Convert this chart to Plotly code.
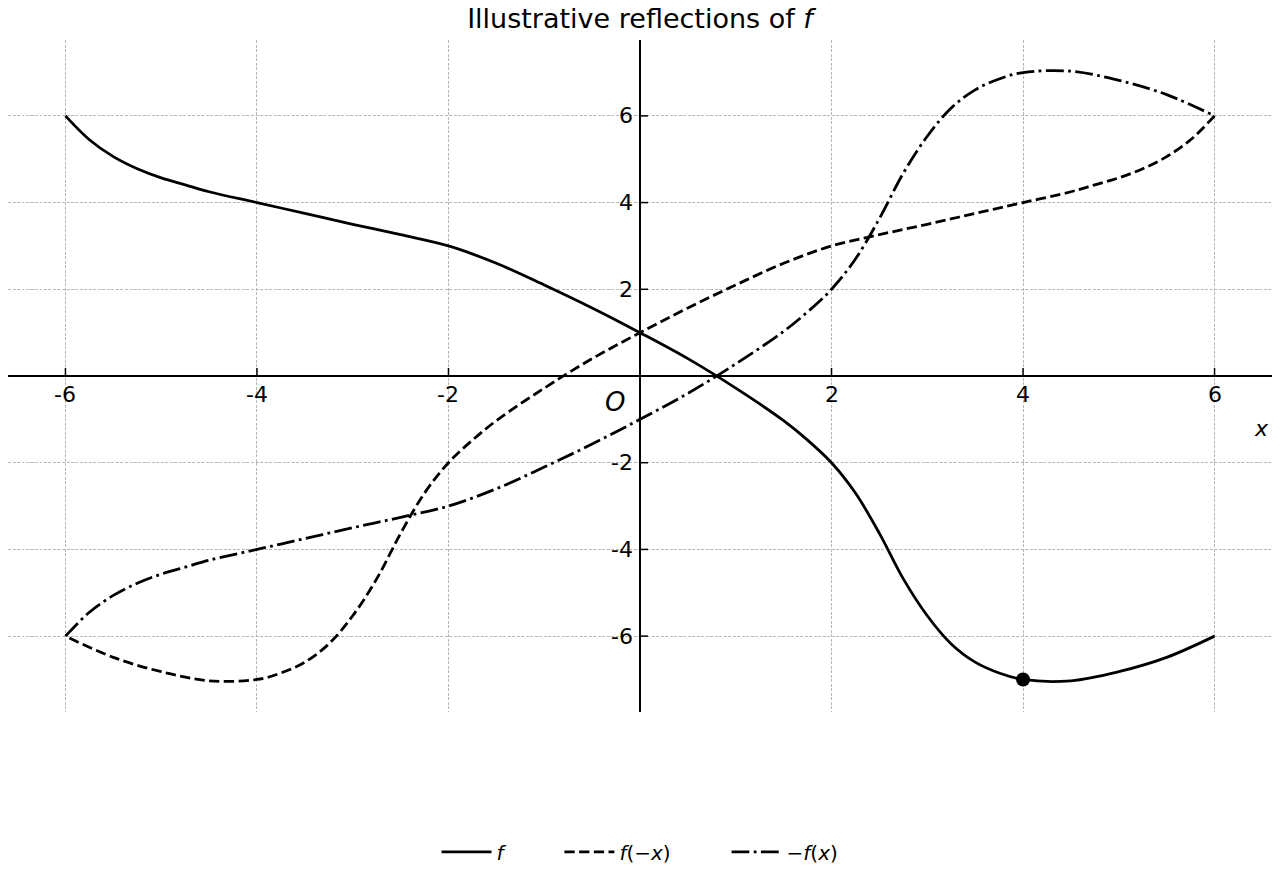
import plotly.graph_objects as go

# ---- data ----
x_vals = [-6, -5.75, -5.5, -5.25, -5, -4.75, -4.5, -4, -3.5, -3, -2.5, -2, -1.5, -1,
          -0.5, 0, 0.5, 1, 1.5, 1.75, 2, 2.25, 2.5, 2.75, 3, 3.25, 3.5, 3.75, 4,
          4.5, 5, 5.5, 6]
f_vals = [6.0, 5.45, 5.06, 4.78, 4.57, 4.41, 4.25, 4.0, 3.75, 3.5, 3.26, 3.0, 2.6, 2.1,
          1.57, 1.0, 0.4, -0.28, -1.03, -1.48, -2.0, -2.7, -3.63, -4.68, -5.53, -6.18,
          -6.6, -6.85, -7.0, -7.03, -6.82, -6.49, -6.0]
point_x = [4]
point_y = [-7]
tick_vals = [-6, -4, -2, 2, 4, 6]
tick_text = ["-6", "-4", "-2", "2", "4", "6"]
legend_names = ["<i>f</i>", "<i>f</i>(−<i>x</i>)", "−<i>f</i>(<i>x</i>)"]

# reflections of f
fneg_x = [-x for x in x_vals]          # f(-x): mirror in the y-axis
negf_y = [-y for y in f_vals]          # -f(x): mirror in the x-axis

FONT = "DejaVu Sans"
LW = 2.8
PAD = "&nbsp;" * 8

fig = go.Figure()
fig.add_trace(go.Scatter(x=x_vals, y=f_vals, mode="lines", name=legend_names[0] + PAD,
                         line=dict(color="black", width=LW, shape="spline",
                                   simplify=False)))
fig.add_trace(go.Scatter(x=fneg_x, y=f_vals, mode="lines", name=legend_names[1] + PAD,
                         line=dict(color="black", width=LW, shape="spline",
                                   simplify=False, dash="10.3px,4.4px")))
fig.add_trace(go.Scatter(x=x_vals, y=negf_y, mode="lines", name=legend_names[2],
                         line=dict(color="black", width=LW, shape="spline",
                                   simplify=False, dash="17.8px,4.4px,2.8px,4.4px")))
fig.add_trace(go.Scatter(x=point_x, y=point_y, mode="markers", showlegend=False,
                         marker=dict(color="black", size=14)))

# tick marks on the centred axes
for t in tick_vals:
    fig.add_shape(type="line", xref="x", yref="y", ysizemode="pixel", yanchor=0,
                  x0=t, x1=t, y0=0, y1=8, line=dict(color="black", width=1.5))
    fig.add_shape(type="line", xref="x", yref="y", xsizemode="pixel", xanchor=0,
                  x0=0, x1=8, y0=t, y1=t, line=dict(color="black", width=1.5))

annotations = []
for t, s in zip(tick_vals, tick_text):
    annotations.append(dict(x=t, y=0, xref="x", yref="y", text=s, showarrow=False,
                            xanchor="center", yanchor="top", yshift=-4,
                            font=dict(family=FONT, size=22, color="black")))
    annotations.append(dict(x=0, y=t, xref="x", yref="y", text=s, showarrow=False,
                            xanchor="right", yanchor="middle", xshift=-5,
                            font=dict(family=FONT, size=22, color="black")))
annotations += [
    dict(x=-0.26, y=-0.6, xref="x", yref="y", text="<i>O</i>", showarrow=False,
         font=dict(family=FONT, size=26, color="black")),
    dict(x=6.49, y=-1.2, xref="x", yref="y", text="<i>x</i>", showarrow=False,
         font=dict(family=FONT, size=22, color="black")),
    dict(x=-0.65, y=8.1, xref="x", yref="y", text="<i>y</i>", showarrow=False,
         font=dict(family=FONT, size=22, color="black")),
]

grid = dict(showgrid=True, gridcolor="#b8b8b8", gridwidth=0.8, griddash="3px,1.5px",
            zeroline=True, zerolinecolor="black", zerolinewidth=2,
            showline=False, ticks="", showticklabels=False, tickvals=tick_vals)

fig.update_layout(
    width=1280, height=880,
    margin=dict(l=8, r=8, t=40, b=168),
    paper_bgcolor="white", plot_bgcolor="white",
    font=dict(family=FONT, color="black"),
    title=dict(text="Illustrative reflections of <i>f</i>", x=0.5, xanchor="center",
               y=1 - 19 / 880, yref="container", yanchor="middle",
               font=dict(family=FONT, size=27, color="black")),
    xaxis=dict(range=[-6.6, 6.6], **grid),
    yaxis=dict(range=[-7.75, 7.75], **grid),
    showlegend=True,
    legend=dict(orientation="h", x=0.5, xanchor="center", y=-0.208, yanchor="middle",
                font=dict(family=FONT, size=20, color="black"),
                itemwidth=50, bgcolor="rgba(0,0,0,0)"),
    annotations=annotations,
)

fig.write_html("out.html")
